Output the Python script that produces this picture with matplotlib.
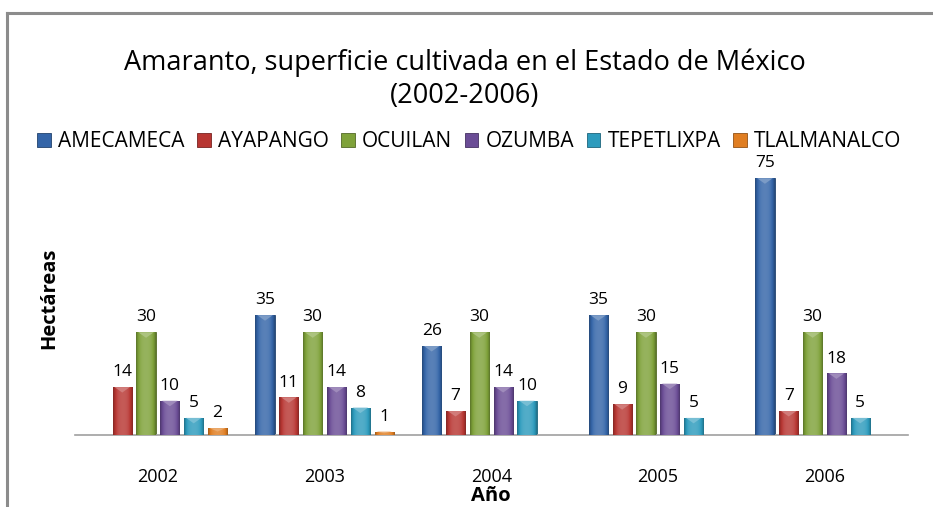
import numpy as np
import matplotlib
matplotlib.use("Agg")
import matplotlib.pyplot as plt
from matplotlib.colors import to_rgb
from matplotlib.lines import Line2D

years = ["2002", "2003", "2004", "2005", "2006"]
series_names = ["AMECAMECA", "AYAPANGO", "OCUILAN", "OZUMBA", "TEPETLIXPA", "TLALMANALCO"]
amecameca = [0, 35, 26, 35, 75]
ayapango = [14, 11, 7, 9, 7]
ocuilan = [30, 30, 30, 30, 30]
ozumba = [10, 14, 14, 15, 18]
tepetlixpa = [5, 8, 10, 5, 5]
tlalmanalco = [2, 1, 0, 0, 0]
values = [amecameca, ayapango, ocuilan, ozumba, tepetlixpa, tlalmanalco]
colors = ["#3465A8", "#B83632", "#7FA23A", "#6B4D96", "#2D9BBD", "#E07E22"]

plt.rcParams['font.family'] = ['Open Sans', 'DejaVu Sans']

fig = plt.figure(figsize=(9.33, 5.07), dpi=100)
ax = fig.add_axes([0.080, 0.142, 0.893, 0.540])

n = len(series_names)
step = 0.143
width = 0.115
x = np.arange(len(years))

def shade(c, f):
    r = np.array(to_rgb(c))
    if f >= 0:
        return r + (1 - r) * f
    return r * (1 + f)

for i, (name, vals, col) in enumerate(zip(series_names, values, colors)):
    offs = x + (i - (n - 1) / 2) * step
    bars = ax.bar(offs, vals, width=width, color=col, label=name,
                  edgecolor=shade(col, -0.35), linewidth=0.6, zorder=2)
    for b, v in zip(bars, vals):
        if v <= 0:
            continue
        x0 = b.get_x(); w = b.get_width()
        t = np.linspace(-1, 1, 40)
        prof = 0.18 * (1 - t**2) - 0.28 * t**4
        img = np.array([[shade(col, p) for p in prof]])
        im = ax.imshow(img, extent=[x0, x0 + w, 0, v], aspect='auto',
                       interpolation='bilinear', zorder=3)
        im.set_clip_path(b)
        th = min(1.6, v * 0.5)
        tri = plt.Polygon([[x0 + w * 0.1, v], [x0 + w * 0.9, v], [x0 + w * 0.5, v - th]],
                          closed=True, color=shade(col, 0.35), zorder=4, lw=0)
        ax.add_patch(tri)
        ax.text(x0 + w / 2, v + 2.0, f"{v}", ha='center', va='bottom',
                fontsize=12.5, zorder=5)

ax.set_xlim(-0.5, len(years) - 0.5)
ax.set_ylim(0, 80)
ax.set_xticks(x)
ax.set_xticklabels(years, fontsize=13)
ax.tick_params(axis='x', length=0, pad=24)
ax.set_yticks([])
for s in ['top', 'right', 'left']:
    ax.spines[s].set_visible(False)
ax.spines['bottom'].set_color('#A0A0A0')
ax.spines['bottom'].set_linewidth(1.2)
ax.set_xlabel("Año", fontsize=14.5, fontweight='bold', labelpad=0)
ax.set_ylabel("Hectáreas", fontsize=14.5, fontweight='bold', labelpad=11)

fig.text(0.498, 0.843, "Amaranto, superficie cultivada en el Estado de México\n(2002-2006)",
         ha='center', va='center', fontsize=19.5, linespacing=1.25)

handles = [plt.Rectangle((0, 0), 1, 1, facecolor=c, edgecolor=shade(c, -0.35), lw=0.6) for c in colors]
fig.legend(handles, series_names, loc='center', bbox_to_anchor=(0.503, 0.72), ncol=6,
           frameon=False, fontsize=15, handlelength=0.65, handleheight=0.65,
           handletextpad=0.35, columnspacing=0.6, borderaxespad=0)

H = 507.0; W = 933.0
fig.add_artist(Line2D([7 / W, 7 / W], [0, 1 - 13 / H], color='#8C8C8C', lw=2.2, transform=fig.transFigure))
fig.add_artist(Line2D([7 / W, 1], [1 - 13 / H, 1 - 13 / H], color='#8C8C8C', lw=2.2, transform=fig.transFigure))

fig.savefig("out.png", dpi=100)
